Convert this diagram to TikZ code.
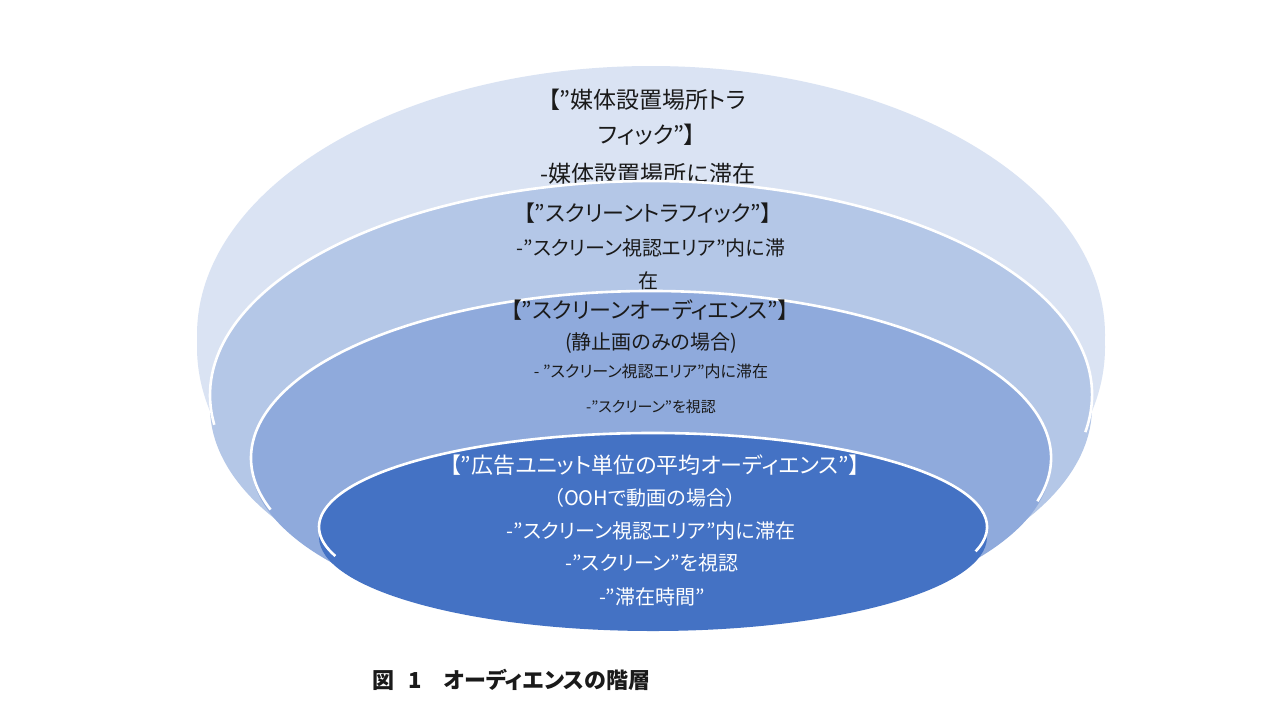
\documentclass[tikz,border=0pt]{standalone}
\usepackage{fontspec}
\newfontfamily\jp[CharacterWidth=AlternateProportional]{Noto Sans CJK JP}
\definecolor{cA}{HTML}{DAE3F3}
\definecolor{cB}{HTML}{B4C7E7}
\definecolor{cC}{HTML}{8FAADC}
\definecolor{cD}{HTML}{4472C4}
\definecolor{ink}{HTML}{1A1A1A}
\begin{document}
\begin{tikzpicture}[x=0.5pt,y=0.5pt,
  lbl/.style={inner sep=0pt, anchor=center, text=ink},
  lblw/.style={inner sep=0pt, anchor=center, text=white},
  wline/.style={draw=white, line width=1.3pt},
  fsT/.style={font={\jp\fontsize{11.5}{13}\selectfont}},
  fsA/.style={font={\jp\fontsize{11}{13}\selectfont}},
  fsB/.style={font={\jp\fontsize{10}{12}\selectfont}},
  fsC/.style={font={\jp\fontsize{8}{10}\selectfont}},
  fsD/.style={font={\jp\fontsize{7.5}{9}\selectfont}}]
\useasboundingbox (0,0) rectangle (1280,-720);
\fill[white] (0,0) rectangle (1280,-720);

% layer 1
\fill[cA] (651,-347) ellipse [x radius=454, y radius=269];
\fill[cA] (197,-335) rectangle (1105,-347);
\fill[cA] (651,-335) ellipse [x radius=454, y radius=269];
\node[lbl,fsT] (a1) at (647,-100) {【”媒体設置場所トラ};
\node[lbl,fsT] (a2) at (647,-135) {フィック”】};
\node[lbl,fsT] (a3) at (648,-174) {-媒体設置場所に滞在};

% layer 2
\fill[cB] (651,-407) ellipse [x radius=441, y radius=214];
\fill[cB] (210,-395) rectangle (1092,-407);
\fill[cB] (651,-395) ellipse [x radius=441, y radius=214];
\draw[wline] ([shift={(-10:441 and 214)}]651,-395) arc [start angle=-10, end angle=188, x radius=441, y radius=214];
\node[lbl,fsA] (b1) at (648,-213) {【”スクリーントラフィック”】};
\node[lbl,fsB] (b2) at (651,-248) {-”スクリーン視認エリア”内に滞};
\node[lbl,fsB] (b3) at (648,-281) {在};

% layer 3
\fill[cC] (651,-462) ellipse [x radius=400, y radius=167];
\fill[cC] (251,-458) rectangle (1051,-462);
\fill[cC] (651,-458) ellipse [x radius=400, y radius=167];
\draw[wline] ([shift={(-15:400 and 167)}]651,-458) arc [start angle=-15, end angle=198, x radius=400, y radius=167];
\node[lbl,fsA] (c1) at (650,-310) {【”スクリーンオーディエンス”】};
\node[lbl,fsB] (c2) at (651,-343) {(静止画のみの場合)};
\node[lbl,fsC] (c3) at (651,-372) {- ”スクリーン視認エリア”内に滞在};
\node[lbl,fsD] (c4) at (651,-407) {-”スクリーン”を視認};

% layer 4
\fill[cD] (653,-537) ellipse [x radius=334, y radius=94];
\fill[cD] (319,-527) rectangle (987,-537);
\fill[cD] (653,-527) ellipse [x radius=334, y radius=94];
\draw[wline] ([shift={(-15:334 and 94)}]653,-527) arc [start angle=-15, end angle=198, x radius=334, y radius=94];
\node[lblw,fsA] (d1) at (655,-465) {【”広告ユニット単位の平均オーディエンス”】};
\node[lblw,fsB] (d2) at (645,-498) {（OOHで動画の場合）};
\node[lblw,fsB] (d3) at (651,-531) {-”スクリーン視認エリア”内に滞在};
\node[lblw,fsB] (d4) at (652,-563) {-”スクリーン”を視認};
\node[lblw,fsB] (d5) at (652,-597) {-”滞在時間”};

% caption
\node[inner sep=0pt, anchor=west, text=ink, font={\jp\bfseries\fontsize{11}{13}\selectfont}] (cap) at (372,-680) {図\hspace{7pt}1\hspace{11pt}オーディエンスの階層};
\end{tikzpicture}
\end{document}
